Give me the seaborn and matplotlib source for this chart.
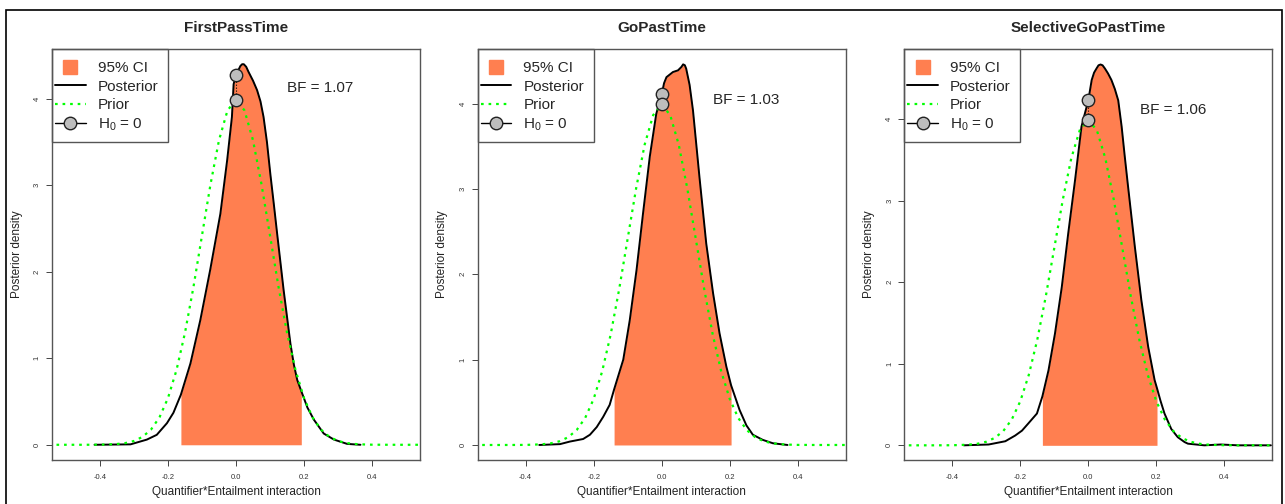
import numpy as np
import pandas as pd
import matplotlib
matplotlib.use("Agg")
import matplotlib.pyplot as plt
from matplotlib.lines import Line2D
from matplotlib.patches import Rectangle
import seaborn as sns

sns.set_style("ticks")
plt.rcParams['font.family'] = ['Liberation Sans', 'DejaVu Sans']
plt.rcParams['mathtext.default'] = 'regular'

titles = ["FirstPassTime", "GoPastTime", "SelectiveGoPastTime"]
bf_labels = ["BF = 1.07", "BF = 1.03", "BF = 1.06"]

post_x_1 = [-0.416, -0.31, -0.262, -0.233, -0.203, -0.184, -0.162, -0.134, -0.105, -0.076, -0.046,
            -0.026, -0.012, -0.007, 0.0, 0.008, 0.013, 0.018, 0.023, 0.030, 0.037, 0.050, 0.062,
            0.072, 0.081, 0.091, 0.101, 0.111, 0.121, 0.14, 0.16, 0.17, 0.18, 0.192, 0.21, 0.229,
            0.258, 0.288, 0.327, 0.366]
post_y_1 = [0.0, 0.005, 0.06, 0.115, 0.25, 0.37, 0.58, 0.94, 1.44, 2.02, 2.67, 3.29, 3.79, 4.17,
            4.27, 4.34, 4.38, 4.40, 4.40, 4.37, 4.31, 4.21, 4.10, 3.97, 3.79, 3.50, 3.13, 2.79,
            2.44, 1.79, 1.17, 0.93, 0.75, 0.62, 0.43, 0.29, 0.13, 0.06, 0.01, 0.0]

post_x_2 = [-0.36, -0.299, -0.27, -0.231, -0.211, -0.191, -0.172, -0.153, -0.14, -0.113, -0.094,
            -0.074, -0.055, -0.035, -0.016, 0.0, 0.007, 0.014, 0.033, 0.048, 0.058, 0.063, 0.068,
            0.072, 0.082, 0.092, 0.111, 0.131, 0.151, 0.17, 0.19, 0.204, 0.229, 0.249, 0.268,
            0.297, 0.327, 0.37]
post_y_2 = [0.0, 0.01, 0.04, 0.07, 0.12, 0.21, 0.33, 0.47, 0.65, 1.0, 1.46, 2.05, 2.71, 3.38, 3.88,
            4.11, 4.24, 4.31, 4.37, 4.39, 4.43, 4.46, 4.45, 4.41, 4.22, 3.92, 3.14, 2.36, 1.78,
            1.31, 0.92, 0.70, 0.41, 0.23, 0.12, 0.06, 0.02, 0.0]

post_x_3 = [-0.366, -0.293, -0.244, -0.215, -0.195, -0.176, -0.151, -0.135, -0.117, -0.098, -0.078,
            -0.059, -0.039, -0.02, 0.0, 0.01, 0.017, 0.024, 0.030, 0.036, 0.042, 0.049, 0.058,
            0.068, 0.078, 0.088, 0.098, 0.107, 0.117, 0.137, 0.156, 0.176, 0.195, 0.202, 0.212,
            0.224, 0.244, 0.263, 0.283, 0.293, 0.341, 0.39, 0.44, 0.537]
post_y_3 = [0.0, 0.01, 0.05, 0.12, 0.18, 0.27, 0.39, 0.60, 0.92, 1.37, 1.94, 2.60, 3.25, 3.91,
            4.23, 4.48, 4.57, 4.62, 4.66, 4.67, 4.66, 4.62, 4.56, 4.48, 4.37, 4.23, 3.91, 3.55,
            3.17, 2.43, 1.78, 1.21, 0.80, 0.70, 0.55, 0.39, 0.20, 0.10, 0.04, 0.02, 0.0, 0.01,
            0.0, 0.0]

ci_low = [-0.162, -0.14, -0.135]
ci_high = [0.192, 0.204, 0.202]

prior_x = [-0.55, -0.5, -0.45, -0.4, -0.375, -0.35, -0.325, -0.3, -0.275, -0.25, -0.225, -0.2,
           -0.175, -0.15, -0.125, -0.1, -0.075, -0.05, -0.025, 0.0, 0.025, 0.05, 0.075, 0.1,
           0.125, 0.15, 0.175, 0.2, 0.225, 0.25, 0.275, 0.3, 0.325, 0.35, 0.375, 0.4, 0.45,
           0.5, 0.55]
prior_y = [0.0, 0.0, 0.0, 0.001, 0.004, 0.009, 0.020, 0.044, 0.091, 0.175, 0.317, 0.540, 0.863,
           1.295, 1.826, 2.420, 3.011, 3.521, 3.866, 3.989, 3.866, 3.521, 3.011, 2.420, 1.826,
           1.295, 0.863, 0.540, 0.317, 0.175, 0.091, 0.044, 0.020, 0.009, 0.004, 0.001, 0.0,
           0.0, 0.0]

h0_post = [4.27, 4.11, 4.23]
h0_prior = [3.99, 3.99, 3.99]
bf_pos = [(0.15, 4.13), (0.15, 4.04), (0.151, 4.11)]
ylims = [(-0.176, 4.576), (-0.176, 4.64), (-0.18, 4.86)]

posts = [(post_x_1, post_y_1), (post_x_2, post_y_2), (post_x_3, post_y_3)]

W, H = 1285, 504
fig = plt.figure(figsize=(W / 100, H / 100), dpi=100)
lefts = [52, 477.7, 904.3]
aw = 368
top_px, bot_px = 49, 460
ah = bot_px - top_px

coral = "#FF7F50"
green = "#00FF00"
frame_c = "#555555"

for i in range(3):
    ax = fig.add_axes([lefts[i] / W, 1 - bot_px / H, aw / W, ah / H])
    px, py = posts[i]
    px = np.array(px)
    py = np.array(py)
    mask = (px >= ci_low[i] - 1e-9) & (px <= ci_high[i] + 1e-9)
    ax.fill_between(px[mask], 0, py[mask], color=coral, lw=0, zorder=1)
    sns.lineplot(x=px, y=py, ax=ax, color="black", lw=1.4, estimator=None, sort=False, zorder=2)
    sns.lineplot(x=prior_x, y=prior_y, ax=ax, color=green, lw=1.6, ls=(0, (1.2, 2.2)),
                 estimator=None, sort=False, zorder=3)
    ax.plot([0, 0], [h0_prior[i], h0_post[i]], color="black", lw=0.8, ls=":", zorder=4)
    sns.scatterplot(x=[0, 0], y=[h0_post[i], h0_prior[i]], ax=ax, s=80, color="#bdbdbd",
                    edgecolor="#222222", linewidth=1.0, zorder=5, legend=False)
    ax.set_xlim(-0.541, 0.541)
    ax.set_ylim(*ylims[i])
    ax.set_xticks([-0.4, -0.2, 0.0, 0.2, 0.4])
    ax.set_xticklabels(["-0.4", "-0.2", "0.0", "0.2", "0.4"])
    ax.set_yticks([0, 1, 2, 3, 4])
    ax.tick_params(axis='both', labelsize=5.5, length=4, width=0.7, colors="#444444",
                   labelcolor="#333333")
    ax.tick_params(axis='y', labelrotation=90, pad=4)
    ax.tick_params(axis='x', pad=6)
    for lab in ax.get_yticklabels():
        lab.set_va("center")
    for s in ax.spines.values():
        s.set_visible(True)
        s.set_color(frame_c)
        s.set_linewidth(1.0)
    ax.set_title(titles[i], fontsize=11, fontweight="bold", pad=12)
    ax.set_xlabel("Quantifier*Entailment interaction", fontsize=8.5, color="#222222", labelpad=4)
    ax.set_ylabel("Posterior density", fontsize=8.5, color="#222222", labelpad=8)
    ax.text(bf_pos[i][0], bf_pos[i][1], bf_labels[i], fontsize=11, va="center", ha="left")

    handles = [
        Line2D([], [], marker="s", ls="none", markersize=10, markerfacecolor=coral,
               markeredgecolor=coral),
        Line2D([], [], color="black", lw=1.4),
        Line2D([], [], color=green, lw=1.6, ls=(0, (1.2, 2.2))),
        Line2D([], [], color="black", lw=1.0, marker="o", markersize=9,
               markerfacecolor="#bdbdbd", markeredgecolor="#222222"),
    ]
    labels = ["95% CI", "Posterior", "Prior", "H$_0$ = 0"]
    ax.legend(handles, labels, loc="upper left",
              bbox_to_anchor=(3 / aw, 1 - 12.5 / ah),
              borderaxespad=0, borderpad=0, fontsize=11, frameon=False,
              handlelength=2.0, handletextpad=0.8, labelspacing=0.28)
    ax.add_patch(Rectangle((0, 1 - 93 / ah), 116 / aw, 93 / ah, transform=ax.transAxes,
                           fill=False, edgecolor=frame_c, lw=1.0, zorder=6, clip_on=False))

fig.patches.append(Rectangle((6 / W, -0.05), (1282 - 6) / W, 1.05 - 10 / H,
                             transform=fig.transFigure, fill=False, edgecolor="black", lw=1.2))

fig.savefig("out.png", dpi=100, facecolor="white")
